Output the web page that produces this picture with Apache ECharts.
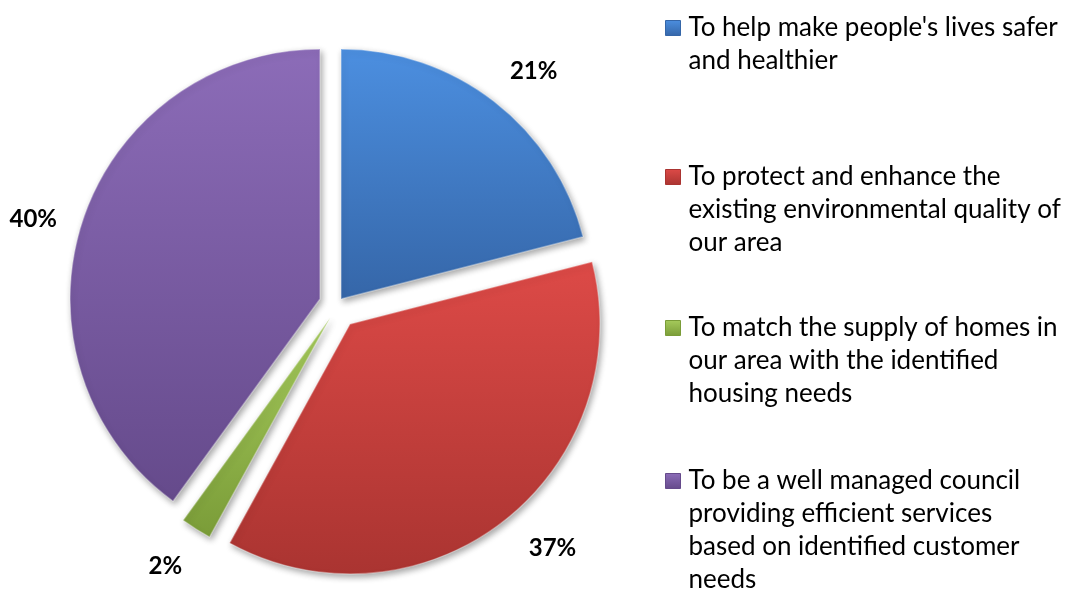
<!DOCTYPE html>
<html><head><meta charset="utf-8">
<script src="https://cdn.jsdelivr.net/npm/echarts@6/dist/echarts.min.js"></script>
<style>html,body{margin:0;padding:0;background:#fff}#c{width:1065px;height:590px}</style>
</head><body><div id="c"></div>
<script>
// ---- data ----
const categories = [
  "To help make people's lives safer and healthier",
  "To protect and enhance the existing environmental quality of our area",
  "To match the supply of homes in our area with the identified housing needs",
  "To be a well managed council providing efficient services based on identified customer needs"
];
const values = [21, 37, 2, 40];
const legendLines = [
  ["To help make people's lives safer", "and healthier"],
  ["To protect and enhance the", "existing environmental quality of", "our area"],
  ["To match the supply of homes in", "our area with the identified", "housing needs"],
  ["To be a well managed council", "providing efficient services", "based on identified customer", "needs"]
];

// ---- styles / layout ----
const colorsTop = ['#4c8fe0', '#dd4a47', '#a6cb5c', '#8c6cb8'];
const colorsBottom = ['#3566a8', '#aa3431', '#7a9c38', '#654a8b'];
const sliceCenters = [[341, 299], [350, 324], [330, 318], [320, 299]];
const pieRadius = 250;
const labelLen = [38.6, 33.5, 43.8, 9];
const labelLen2 = [-13, 0, -14.5, 11.7];
const LH = 33;
const legendFirstLineY = [28, 177, 328, 481];

function grad(i) {
  return new echarts.graphic.LinearGradient(0, 0, 0, 1, [
    { offset: 0, color: colorsTop[i] },
    { offset: 1, color: colorsBottom[i] }
  ]);
}

const series = categories.map((_, i) => ({
  type: 'pie',
  radius: pieRadius,
  center: sliceCenters[i],
  startAngle: 90,
  clockwise: true,
  avoidLabelOverlap: false,
  silent: true,
  animation: false,
  label: { show: false },
  labelLine: { show: false, length: labelLen[i], length2: labelLen2[i] },
  emphasis: { disabled: true },
  data: categories.map((name, j) => ({
    name: name,
    value: values[j],
    itemStyle: j === i ? {
      color: grad(j),
      borderColor: 'rgba(255,255,255,0.35)',
      borderWidth: 1.5,
      shadowColor: 'rgba(0,0,0,0.35)',
      shadowBlur: 6,
      shadowOffsetX: 2,
      shadowOffsetY: 3
    } : { color: 'rgba(0,0,0,0)', borderWidth: 0, shadowBlur: 0 },
    label: j === i ? {
      show: true,
      position: 'outside',
      formatter: '{c}%',
      fontFamily: 'Lato',
      fontWeight: 'bold',
      fontSize: 24,
      color: '#000'
    } : { show: false },
    labelLine: { show: false, length: labelLen[i], length2: labelLen2[i] }
  }))
}));

const legends = categories.map((name, i) => {
  const n = legendLines[i].length;
  return {
    data: [{
      name: name,
      itemStyle: { color: grad(i), borderColor: colorsBottom[i], borderWidth: 1 }
    }],
    orient: 'vertical',
    left: 665,
    top: legendFirstLineY[i] - (n - 1) * LH - LH / 2,
    padding: 0,
    itemWidth: 15,
    itemHeight: 15,
    icon: 'rect',
    formatter: function (nm) {
      const k = categories.indexOf(nm);
      const lines = legendLines[k];
      return '\n'.repeat(lines.length - 1) + lines.join('\n');
    },
    textStyle: { fontFamily: 'Lato', fontSize: 26, lineHeight: LH, color: '#000', padding: [0, 0, 0, 3] }
  };
});

const chart = echarts.init(document.getElementById('c'), null, { renderer: 'canvas' });
chart.setOption({
  backgroundColor: '#fff',
  animation: false,
  legend: legends,
  series: series
});
</script>
</body></html>
